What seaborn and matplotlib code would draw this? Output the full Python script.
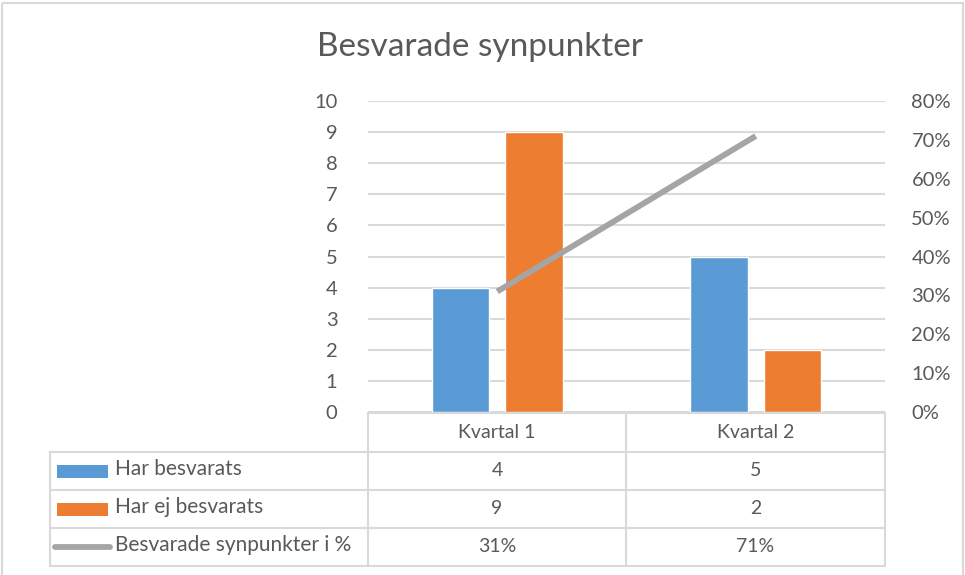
import matplotlib
matplotlib.use("Agg")
import matplotlib.pyplot as plt
import seaborn as sns
import pandas as pd
import numpy as np
from matplotlib.patches import Rectangle
from matplotlib.lines import Line2D

# ---- data ----
categories = ["Kvartal 1", "Kvartal 2"]
har_besvarats = [4, 5]
har_ej_besvarats = [9, 2]
besvarade_pct = [0.31, 0.71]
series_names = ["Har besvarats", "Har ej besvarats", "Besvarade synpunkter i %"]
title = "Besvarade synpunkter"
left_ticks = list(range(0, 11))
right_ticks = [0, 0.1, 0.2, 0.3, 0.4, 0.5, 0.6, 0.7, 0.8]

BLUE = "#5B9BD5"
ORANGE = "#ED7D31"
GRAY = "#A5A5A5"
GRID = "#D9D9D9"
TXT = "#595959"

sns.set_theme(style="white")
plt.rcParams["font.family"] = ["Lato", "DejaVu Sans"]

W, H = 965, 575
fig = plt.figure(figsize=(W / 100, H / 100), dpi=100)

def fx(px):
    return px / W

def fy(py):
    return 1 - py / H

# main axes
L, R, T, B = 368, 885, 101, 412
ax = fig.add_axes([fx(L), fy(B), (R - L) / W, (B - T) / H])

df = pd.DataFrame({
    "Kvartal": categories * 2,
    "Serie": [series_names[0]] * 2 + [series_names[1]] * 2,
    "Antal": har_besvarats + har_ej_besvarats,
})
sns.barplot(data=df, x="Kvartal", y="Antal", hue="Serie",
            palette=[BLUE, ORANGE], width=0.57, gap=0.22,
            ax=ax, legend=False, saturation=1)
ax.set_ylim(0, 10)
ax.set_xlim(-0.5, 1.5)
ax.set_yticks(left_ticks)
ax.yaxis.grid(True, color=GRID, linewidth=1.5)
ax.set_axisbelow(True)
ax.set_xlabel("")
ax.set_ylabel("")
ax.set_xticks([])
for s in ax.spines.values():
    s.set_visible(False)
ax.tick_params(axis="y", length=0, pad=22, labelsize=14.5, labelcolor=TXT)

ax2 = ax.twinx()
line_df = pd.DataFrame({"x": [0, 1], "pct": besvarade_pct})
sns.lineplot(data=line_df, x="x", y="pct", ax=ax2, color=GRAY, linewidth=4.2,
             solid_capstyle="butt")
ax2.set_ylim(0, 0.8)
ax2.set_xlim(-0.5, 1.5)
ax2.set_yticks(right_ticks)
ax2.set_yticklabels([f"{int(round(v * 100))}%" for v in right_ticks])
ax2.set_ylabel("")
ax2.set_xlabel("")
for s in ax2.spines.values():
    s.set_visible(False)
ax2.tick_params(axis="y", length=0, pad=19, labelsize=14.5, labelcolor=TXT)
ax2.grid(False)

# overlay for title, data table and frame
ov = fig.add_axes([0, 0, 1, 1], zorder=-1)
ov.set_xlim(0, W)
ov.set_ylim(H, 0)
ov.axis("off")

ov.text(480, 47, title, ha="center", va="center", fontsize=24, color=TXT)

# outer chart frame
ov.add_patch(Rectangle((2, 3), 961, 580, fill=False, edgecolor="#D9D9D9", linewidth=1.5))

# data table grid
col_x = [L, 626, R]
row_y = [413, 452, 490, 528, 566]
tl = 50
lw = 1.5
ov.add_line(Line2D([L, R], [row_y[0], row_y[0]], color=GRID, lw=lw))
for y in row_y[1:]:
    ov.add_line(Line2D([tl, R], [y, y], color=GRID, lw=lw))
for x in col_x:
    ov.add_line(Line2D([x, x], [row_y[0], row_y[-1]], color=GRID, lw=lw))
ov.add_line(Line2D([tl, tl], [row_y[1], row_y[-1]], color=GRID, lw=lw))

fs = 14
col_c = [(col_x[0] + col_x[1]) / 2, (col_x[1] + col_x[2]) / 2]
for c, name in zip(col_c, categories):
    ov.text(c, (row_y[0] + row_y[1]) / 2, name, ha="center", va="center", fontsize=fs, color=TXT)

rows = [
    (series_names[0], [str(v) for v in har_besvarats], "bar", BLUE),
    (series_names[1], [str(v) for v in har_ej_besvarats], "bar", ORANGE),
    (series_names[2], [f"{int(round(v * 100))}%" for v in besvarade_pct], "line", GRAY),
]
for i, (name, vals, kind, col) in enumerate(rows):
    yc = (row_y[i + 1] + row_y[i + 2]) / 2
    if kind == "bar":
        ov.add_patch(Rectangle((57, yc - 6.5), 51, 13, color=col, lw=0))
    else:
        ov.add_line(Line2D([55, 110], [yc, yc], color=col, lw=4.2, solid_capstyle="round"))
    ov.text(115, yc - 2, name, ha="left", va="center", fontsize=15, color=TXT)
    for c, v in zip(col_c, vals):
        ov.text(c, yc, v, ha="center", va="center", fontsize=fs, color=TXT)

fig.savefig("out.png", dpi=100, facecolor="white")
